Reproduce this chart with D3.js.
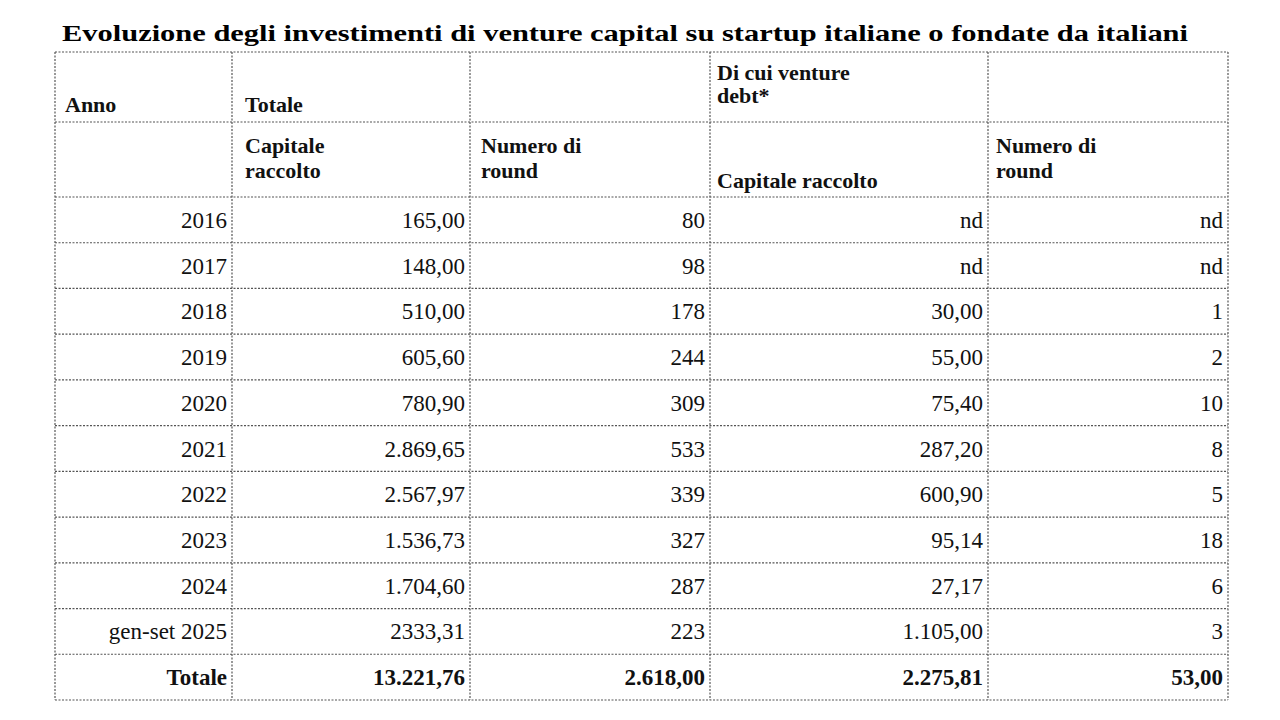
<!DOCTYPE html>
<html><head><meta charset="utf-8">
<script src="https://cdn.jsdelivr.net/npm/d3@7"></script>
<style>body{margin:0;background:#fff}</style>
</head><body><svg id="c" width="1280" height="720"></svg>
<script>
const title = "Evoluzione degli investimenti di venture capital su startup italiane o fondate da italiani";
const years = ["2016","2017","2018","2019","2020","2021","2022","2023","2024","gen-set 2025","Totale"];
const capitaleTot = ["165,00","148,00","510,00","605,60","780,90","2.869,65","2.567,97","1.536,73","1.704,60","2333,31","13.221,76"];
const roundTot = ["80","98","178","244","309","533","339","327","287","223","2.618,00"];
const capitaleDebt = ["nd","nd","30,00","55,00","75,40","287,20","600,90","95,14","27,17","1.105,00","2.275,81"];
const roundDebt = ["nd","nd","1","2","10","8","5","18","6","3","53,00"];

const svg = d3.select("#c");
const font = "'Liberation Serif','Times New Roman',serif";
const colEdges = [55,232,470,710,988,1228];
const colX = i => colEdges[i];
const yRows = d3.scaleBand().domain(years).range([197,700]);
const line = (x1,y1,x2,y2)=>svg.append("line").attr("x1",x1).attr("y1",y1).attr("x2",x2).attr("y2",y2)
  .attr("stroke","#555").attr("stroke-width",1.2).attr("stroke-dasharray","2,1.5");

svg.append("text").attr("x",62).attr("y",41).attr("font-family",font).attr("font-weight","bold")
  .attr("font-size",24).attr("textLength",1126).attr("lengthAdjust","spacingAndGlyphs").text(title);

[52,122,197].forEach(y=>line(55,y,1228,y));
years.forEach(d=>line(55,yRows(d)+yRows.bandwidth(),1228,yRows(d)+yRows.bandwidth()));
colEdges.forEach(xx=>line(xx,52,xx,700));

const txt=(x,y,s,opts={})=>svg.append("text").attr("x",x).attr("y",y).attr("font-family",font)
  .attr("font-size",opts.size||23).attr("font-weight",opts.bold?"bold":"normal")
  .attr("text-anchor",opts.anchor||"start").attr("fill","#111").text(s);

const h={bold:1,size:22};
txt(65,112,"Anno",h);
txt(245,112,"Totale",h);
txt(717,80,"Di cui venture",h);
txt(717,103,"debt*",h);
txt(245,153,"Capitale",h); txt(245,178,"raccolto",h);
txt(481,153,"Numero di",h); txt(481,178,"round",h);
txt(717,188,"Capitale raccolto",h);
txt(996,153,"Numero di",h); txt(996,178,"round",h);

const cols=[years,capitaleTot,roundTot,capitaleDebt,roundDebt];
years.forEach((d,r)=>{
  const y=yRows(d)+yRows.bandwidth()/2+8;
  const bold = d==="Totale";
  cols.forEach((arr,c)=>{
    txt(colX(c+1)-5,y,arr[r],{anchor:"end",bold});
  });
});
</script></body></html>
